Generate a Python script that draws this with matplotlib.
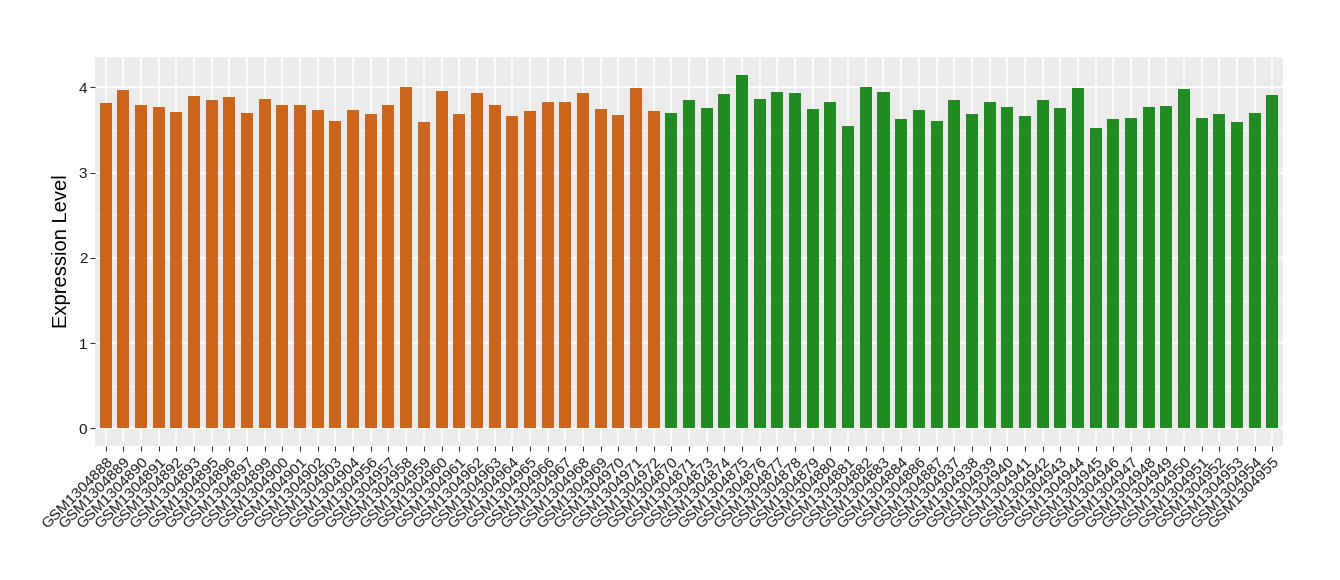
import matplotlib
matplotlib.use("Agg")
import matplotlib.pyplot as plt
import numpy as np

plt.rcParams['font.family'] = ['Liberation Sans', 'DejaVu Sans']

# ----------------------------- data ------------------------------------------
group1_samples = [
    "GSM1304888", "GSM1304889", "GSM1304890", "GSM1304891", "GSM1304892",
    "GSM1304893", "GSM1304895", "GSM1304896", "GSM1304897", "GSM1304899",
    "GSM1304900", "GSM1304901", "GSM1304902", "GSM1304903", "GSM1304904",
    "GSM1304956", "GSM1304957", "GSM1304958", "GSM1304959", "GSM1304960",
    "GSM1304961", "GSM1304962", "GSM1304963", "GSM1304964", "GSM1304965",
    "GSM1304966", "GSM1304967", "GSM1304968", "GSM1304969", "GSM1304970",
    "GSM1304971", "GSM1304972",
]
group1_values = [
    3.82, 3.97, 3.79, 3.77, 3.71, 3.90, 3.85, 3.89, 3.70, 3.86,
    3.79, 3.79, 3.74, 3.61, 3.74, 3.69, 3.79, 4.01, 3.60, 3.96,
    3.69, 3.93, 3.80, 3.66, 3.72, 3.83, 3.83, 3.93, 3.75, 3.68,
    3.99, 3.72,
]

group2_samples = [
    "GSM1304870", "GSM1304871", "GSM1304873", "GSM1304874", "GSM1304875",
    "GSM1304876", "GSM1304877", "GSM1304878", "GSM1304879", "GSM1304880",
    "GSM1304881", "GSM1304882", "GSM1304883", "GSM1304884", "GSM1304886",
    "GSM1304887", "GSM1304937", "GSM1304938", "GSM1304939", "GSM1304940",
    "GSM1304941", "GSM1304942", "GSM1304943", "GSM1304944", "GSM1304945",
    "GSM1304946", "GSM1304947", "GSM1304948", "GSM1304949", "GSM1304950",
    "GSM1304951", "GSM1304952", "GSM1304953", "GSM1304954", "GSM1304955",
]
group2_values = [
    3.70, 3.85, 3.76, 3.92, 4.15, 3.86, 3.95, 3.94, 3.75, 3.83,
    3.55, 4.01, 3.95, 3.63, 3.74, 3.61, 3.85, 3.69, 3.83, 3.77,
    3.67, 3.85, 3.76, 3.99, 3.52, 3.63, 3.64, 3.77, 3.78, 3.98,
    3.64, 3.69, 3.59, 3.70, 3.91,
]

COLOR_1 = "#CD661D"
COLOR_2 = "#228B22"

# ----------------------------- plot ------------------------------------------
labels = group1_samples + group2_samples
values = group1_values + group2_values
colors = [COLOR_1] * len(group1_values) + [COLOR_2] * len(group2_values)
x = np.arange(len(labels))

fig = plt.figure(figsize=(13.4, 5.8), dpi=100)
ax = fig.add_axes([0.0709, 0.231, 0.9575 - 0.0709, 0.9017 - 0.231])
ax.set_facecolor("#EBEBEB")

ax.bar(x, values, width=0.68, color=colors, zorder=3)

ymax = max(values)
pad = 0.05 * ymax
ax.set_ylim(-pad, ymax + pad)
ax.set_xlim(-0.6, len(labels) - 0.4)

ax.set_yticks([0, 1, 2, 3, 4])
ax.set_yticks([0.5, 1.5, 2.5, 3.5], minor=True)
ax.set_xticks(x)
ax.set_xticklabels(labels, rotation=45, ha="right", rotation_mode="anchor",
                   fontsize=11, color="#1a1a1a")
ax.tick_params(axis="y", labelsize=11, labelcolor="#1a1a1a", pad=2)
ax.tick_params(axis="x", pad=3)
ax.tick_params(axis="both", which="major", length=3.5, color="#333333", width=0.8)
ax.tick_params(axis="y", which="minor", length=0)

ax.grid(which="major", color="white", linewidth=1.1, zorder=0)
ax.grid(which="minor", axis="y", color="white", linewidth=0.5, zorder=0)
ax.set_axisbelow(True)
for s in ax.spines.values():
    s.set_visible(False)

ax.set_ylabel("Expression Level", fontsize=14.5, labelpad=6)

fig.savefig("out.png", dpi=100)
plt.close(fig)
